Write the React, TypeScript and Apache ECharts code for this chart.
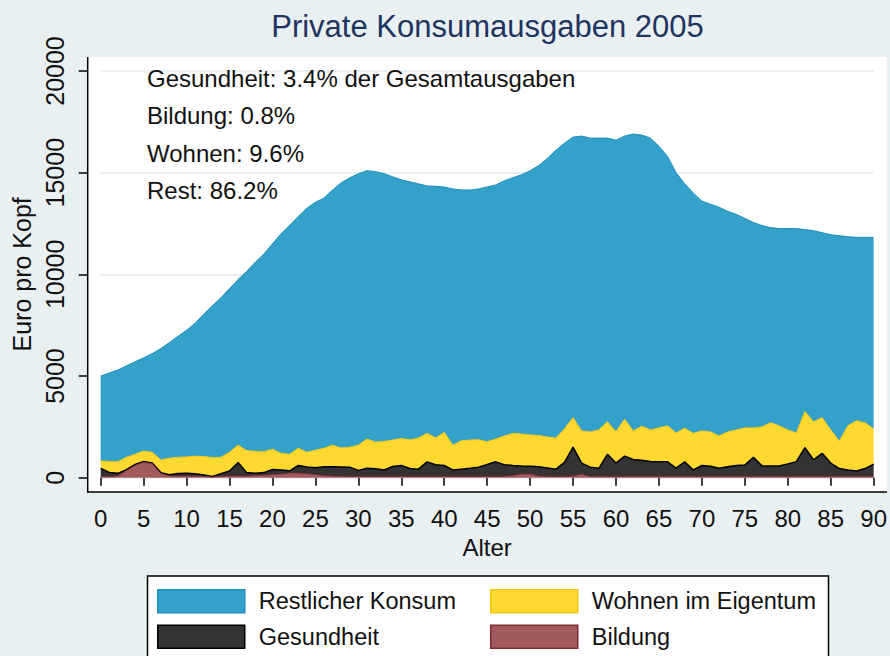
import React, { useEffect, useRef } from "react";
import * as echarts from "echarts";

const ages: string[] = Array.from({ length: 91 }, (_, i) => String(i));

const bildung = [
  50, 50, 80, 350, 600, 760, 690, 200, 80, 80,
  80, 80, 60, 30, 60, 80, 80, 80, 100, 120,
  150, 180, 220, 220, 200, 150, 100, 80, 70, 60,
  60, 60, 60, 60, 60, 60, 60, 60, 60, 60,
  60, 60, 60, 60, 60, 60, 60, 60, 100, 180,
  180, 80, 60, 60, 60, 70, 170, 60, 50, 50,
  50, 50, 50, 50, 50, 50, 50, 50, 50, 50,
  50, 50, 50, 50, 50, 50, 50, 50, 50, 50,
  50, 50, 50, 50, 50, 50, 50, 50, 50, 50,
  50,
];

const gesundheit = [
  410, 210, 135, 50, 50, 40, 30, 50, 70, 130,
  140, 120, 70, 30, 140, 250, 670, 170, 115, 130,
  250, 200, 120, 380, 330, 340, 440, 460, 460, 460,
  300, 400, 380, 320, 490, 540, 390, 360, 720, 580,
  540, 320, 360, 400, 460, 590, 720, 580, 500, 390,
  380, 460, 420, 360, 690, 1430, 550, 460, 410, 1100,
  670, 1010, 850, 810, 750, 740, 730, 420, 730, 330,
  550, 510, 410, 490, 550, 570, 950, 530, 520, 525,
  630, 740, 1430, 830, 1150, 670, 400, 330, 280, 400,
  620,
];

const wohnen = [
  360, 540, 575, 600, 500, 510, 530, 620, 810, 790,
  800, 860, 910, 930, 800, 920, 850, 1080, 1085, 1030,
  1000, 820, 810, 850, 720, 860, 910, 1060, 930, 980,
  1240, 1440, 1310, 1400, 1300, 1330, 1410, 1530, 1400, 1310,
  1630, 1220, 1400, 1390, 1350, 1120, 1120, 1410, 1580, 1580,
  1540, 1540, 1520, 1530, 1650, 1450, 1580, 1730, 1890, 1600,
  1540, 1810, 1400, 1670, 1550, 1660, 1770, 1730, 1650, 1800,
  1700, 1690, 1590, 1710, 1750, 1830, 1450, 1920, 2130, 1975,
  1670, 1410, 1770, 1870, 1750, 1630, 1350, 2170, 2470, 2250,
  1730,
];

const restlicherKonsum = [
  4180, 4350, 4510, 4500, 4550, 4590, 4850, 5480, 5690, 5950,
  6230, 6540, 7010, 7460, 7850, 8050, 8150, 8820, 9300, 9720,
  10100, 10800, 11250, 11400, 12000, 12200, 12300, 12550, 13040, 13250,
  13350, 13200, 13300, 13170, 12950, 12720, 12690, 12500, 12170, 12380,
  12070, 12600, 12330, 12300, 12330, 12530, 12500, 12550, 12570, 12750,
  13000, 13270, 13700, 14150, 14050, 13800, 14500, 14450, 14350, 13950,
  14340, 13930, 14600, 14320, 14350, 13850, 13250, 12800, 12020, 11820,
  11300, 11200, 11250, 10850, 10600, 10300, 10100, 9900, 9600, 9700,
  9900, 10050, 8950, 9400, 9100, 9600, 10100, 9300, 9020, 9120,
  9420,
];

const titleText = "Private Konsumausgaben 2005";
const notes = [
  "Gesundheit: 3.4% der Gesamtausgaben",
  "Bildung: 0.8%",
  "Wohnen: 9.6%",
  "Rest: 86.2%",
];
const xName = "Alter";
const yName = "Euro pro Kopf";

const FONT = "'Liberation Sans', Arial, Helvetica, sans-serif";

const COL = {
  rest: "#33a1c9",
  restBorder: "#1f8fbb",
  wohnen: "#ffd92f",
  wohnenBorder: "#f2c516",
  ges: "#333333",
  gesBorder: "#000000",
  bild: "#a35a5d",
  bildBorder: "#7e2e33",
};

export default function App() {
  const ref = useRef<HTMLDivElement>(null);

  useEffect(() => {
    if (!ref.current) return;
    const chart = echarts.init(ref.current, undefined, { renderer: "svg" });

    const gridLeft = 100.7;
    const gridRight = 15;
    const gridTop = 71;
    const gridBottom = 178.3;

    const mkSeries = (name: string, data: number[], color: string, border: string, lw: number, z: number) => ({
      name,
      type: "line",
      stack: "total",
      data,
      symbol: "none",
      smooth: false,
      z,
      lineStyle: { color: border, width: lw },
      areaStyle: { color, opacity: 1 },
      itemStyle: { color },
      emphasis: { disabled: true },
    });

    const legendItem = (name: string, color: string, border: string) => ({
      name,
      icon: "rect",
      itemStyle: { color, borderColor: border, borderWidth: 1.5 },
    });

    const legendCommon = {
      orient: "vertical",
      top: 589,
      itemWidth: 87,
      itemHeight: 23,
      itemGap: 11,
      padding: 0,
      selectedMode: false,
      textStyle: {
        fontFamily: FONT,
        fontSize: 23.5,
        color: "#111111",
        padding: [0, 0, 0, 9],
      },
    };

    chart.setOption({
      animation: false,
      backgroundColor: "#e9f0f2",
      title: {
        text: titleText,
        left: 487.5,
        top: 11,
        padding: 0,
        textAlign: "center",
        textStyle: {
          fontFamily: FONT,
          fontSize: 31,
          fontWeight: "normal",
          color: "#1e3461",
        },
      },
      grid: {
        left: gridLeft,
        right: gridRight,
        top: gridTop,
        bottom: gridBottom,
        containLabel: false,
      },
      xAxis: {
        type: "category",
        data: ages,
        boundaryGap: false,
        offset: 14.3,
        name: xName,
        nameLocation: "middle",
        nameGap: 43,
        nameTextStyle: { fontFamily: FONT, fontSize: 24, color: "#111111" },
        axisLine: { show: false },
        axisTick: {
          show: true,
          interval: 4,
          length: 8,
          lineStyle: { color: "#000000", width: 1.5 },
        },
        axisLabel: {
          interval: 4,
          margin: 14,
          fontFamily: FONT,
          fontSize: 24,
          color: "#111111",
        },
        splitLine: { show: false },
      },
      yAxis: {
        type: "value",
        min: 0,
        max: 20000,
        interval: 5000,
        offset: 13,
        name: yName,
        nameLocation: "middle",
        nameGap: 40,
        nameRotate: 90,
        nameTextStyle: { fontFamily: FONT, fontSize: 25, color: "#111111" },
        axisLine: { show: false },
        axisTick: {
          show: true,
          length: 9,
          lineStyle: { color: "#000000", width: 1.5 },
        },
        axisLabel: {
          rotate: 90,
          margin: 20,
          fontFamily: FONT,
          fontSize: 25,
          color: "#111111",
          formatter: (v: number) => String(v),
        },
        splitLine: { show: true, lineStyle: { color: "#e2ebee", width: 1.5 } },
      },
      legend: [
        {
          ...legendCommon,
          left: 157,
          data: [
            legendItem("Restlicher Konsum", COL.rest, COL.restBorder),
            legendItem("Gesundheit", COL.ges, COL.gesBorder),
          ],
        },
        {
          ...legendCommon,
          left: 490,
          data: [
            legendItem("Wohnen im Eigentum", COL.wohnen, COL.wohnenBorder),
            legendItem("Bildung", COL.bild, COL.bildBorder),
          ],
        },
      ],
      graphic: [
        {
          type: "rect",
          z: -100,
          silent: true,
          shape: { x: 87.7, y: 57, width: 799, height: 435 },
          style: { fill: "#ffffff" },
        },
        {
          type: "line",
          z: 100,
          silent: true,
          shape: { x1: 87.7, y1: 57, x2: 87.7, y2: 492.5 },
          style: { stroke: "#000000", lineWidth: 1.5 },
        },
        {
          type: "line",
          z: 100,
          silent: true,
          shape: { x1: 87, y1: 492, x2: 887, y2: 492 },
          style: { stroke: "#000000", lineWidth: 1.5 },
        },
        {
          type: "rect",
          z: -100,
          silent: true,
          shape: { x: 147.5, y: 576, width: 681, height: 100 },
          style: { fill: "#ffffff", stroke: "#000000", lineWidth: 1.5 },
        },
        ...notes.map((t, i) => ({
          type: "text",
          z: 100,
          silent: true,
          x: 147,
          y: [78, 115, 153, 190][i],
          style: {
            text: t,
            fontFamily: FONT,
            fontSize: 24,
            fill: "#111111",
            textVerticalAlign: "middle",
            verticalAlign: "middle",
          },
        })),
      ],
      series: [
        mkSeries("Bildung", bildung, COL.bild, COL.bildBorder, 1, 5),
        mkSeries("Gesundheit", gesundheit, COL.ges, COL.gesBorder, 1.5, 4),
        mkSeries("Wohnen im Eigentum", wohnen, COL.wohnen, COL.wohnenBorder, 1, 3),
        mkSeries("Restlicher Konsum", restlicherKonsum, COL.rest, COL.restBorder, 1, 2),
      ],
    });

    return () => chart.dispose();
  }, []);

  return (
    <div
      ref={ref}
      style={{ position: "fixed", left: 0, top: 0, width: 890, height: 656 }}
    />
  );
}
